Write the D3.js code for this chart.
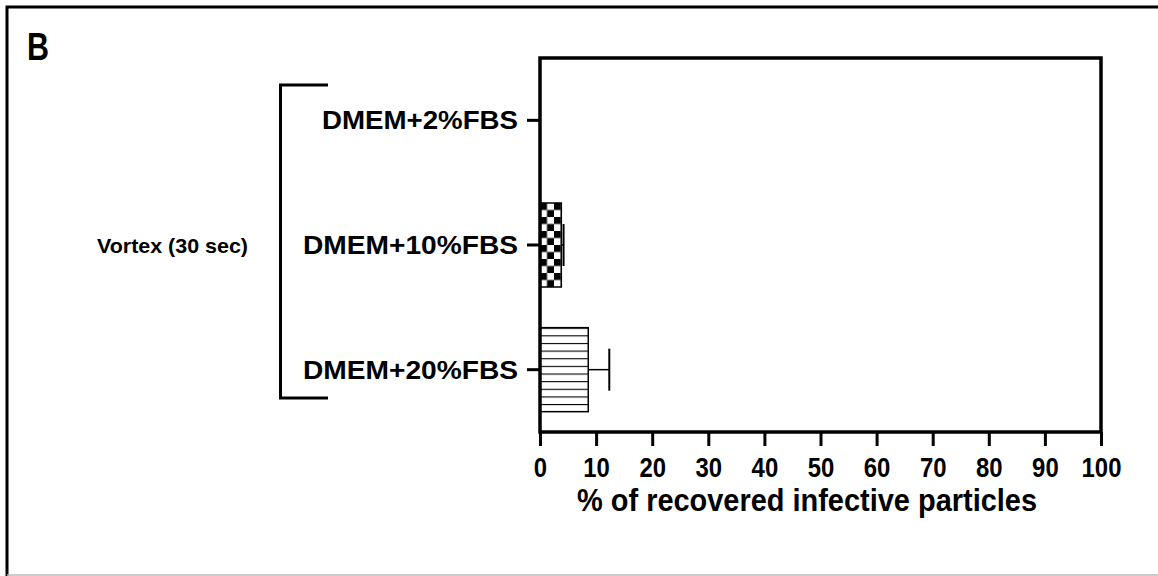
<!DOCTYPE html>
<html>
<head>
<meta charset="utf-8">
<script src="https://cdn.jsdelivr.net/npm/d3@7"></script>
<style>
  html, body { margin: 0; padding: 0; background: #fff; }
  svg { display: block; }
  text { font-family: "Liberation Sans", Arial, sans-serif; font-weight: bold; fill: #000; }
</style>
</head>
<body>
<svg id="chart" width="1158" height="576"></svg>
<script>
// ---- data ----
const categories = ["DMEM+2%FBS", "DMEM+10%FBS", "DMEM+20%FBS"];
const values = [0, 3.8, 8.6];
const errors = [0, 0.4, 3.75];
const fills = ["none", "checker", "hlines"];
const xTicks = [0, 10, 20, 30, 40, 50, 60, 70, 80, 90, 100];
const xTitle = "% of recovered infective particles";
const groupLabel = "Vortex (30 sec)";
const panelLabel = "B";

(function () {
const svg = d3.select("#chart");

// outer panel frame
svg.append("path")
  .attr("d", "M7,576 L7,7 L1158,7")
  .attr("fill", "none").attr("stroke", "#000").attr("stroke-width", 3);
svg.append("line").attr("x1", 7).attr("x2", 1158).attr("y1", 575).attr("y2", 575)
  .attr("stroke", "#bbb").attr("stroke-width", 1.5);

svg.append("text").attr("x", 27).attr("y", 60)
  .attr("font-size", 38).attr("textLength", 22).attr("lengthAdjust", "spacingAndGlyphs")
  .text(panelLabel);

// scales
const pL = 540, pR = 1101, pT = 58, pB = 432;
const x = d3.scaleLinear().domain([0, 100]).range([pL, pR]);
const y = d3.scaleBand().domain(categories).range([pT, pB]).paddingInner(0.326).paddingOuter(0.163);

// patterns
const defs = svg.append("defs");
const bw = y.bandwidth();
const cell = bw / 12;
const chk = defs.append("pattern").attr("id", "checker").attr("patternUnits", "userSpaceOnUse")
  .attr("width", cell * 2).attr("height", cell * 2)
  .attr("x", pL).attr("y", y(categories[1]));
chk.append("rect").attr("width", cell * 2).attr("height", cell * 2).attr("fill", "#fff");
chk.append("rect").attr("width", cell).attr("height", cell).attr("fill", "#000");
chk.append("rect").attr("x", cell).attr("y", cell).attr("width", cell).attr("height", cell).attr("fill", "#000");

const lineStep = bw / 11;
const hl = defs.append("pattern").attr("id", "hlines").attr("patternUnits", "userSpaceOnUse")
  .attr("width", 20).attr("height", lineStep)
  .attr("x", pL).attr("y", y(categories[2]));
hl.append("rect").attr("width", 20).attr("height", lineStep).attr("fill", "#fff");
hl.append("line").attr("x1", 0).attr("x2", 20).attr("y1", 0).attr("y2", 0)
  .attr("stroke", "#000").attr("stroke-width", 2.2);

// bars
const data = categories.map((c, i) => ({ c, v: values[i], e: errors[i], f: fills[i] }));
const g = svg.append("g");
g.selectAll("rect.bar").data(data.filter(d => d.v > 0)).join("rect")
  .attr("class", "bar")
  .attr("x", x(0)).attr("y", d => y(d.c))
  .attr("width", d => x(d.v) - x(0)).attr("height", bw)
  .attr("fill", d => `url(#${d.f})`)
  .attr("stroke", "#000").attr("stroke-width", 1.5);

// error bars
const eb = g.selectAll("g.err").data(data.filter(d => d.e > 0)).join("g").attr("class", "err");
eb.append("line")
  .attr("x1", d => x(d.v)).attr("x2", d => x(d.v + d.e))
  .attr("y1", d => y(d.c) + bw / 2).attr("y2", d => y(d.c) + bw / 2)
  .attr("stroke", "#000").attr("stroke-width", 1.5);
eb.append("line")
  .attr("x1", d => x(d.v + d.e)).attr("x2", d => x(d.v + d.e))
  .attr("y1", d => y(d.c) + bw / 2 - 21).attr("y2", d => y(d.c) + bw / 2 + 21)
  .attr("stroke", "#000").attr("stroke-width", 2);

// plot frame
svg.append("rect").attr("x", pL).attr("y", pT).attr("width", pR - pL).attr("height", pB - pT)
  .attr("fill", "none").attr("stroke", "#000").attr("stroke-width", 3.5);

// x axis
const xAxis = svg.append("g").attr("transform", `translate(0,${pB})`)
  .call(d3.axisBottom(x).tickValues(xTicks).tickSize(14).tickPadding(10).tickFormat(d3.format("d")));
xAxis.select(".domain").remove();
xAxis.selectAll(".tick line").attr("stroke", "#000").attr("stroke-width", 3);
xAxis.selectAll(".tick text").attr("font-size", 28).attr("font-family", "Liberation Sans, Arial, sans-serif")
  .attr("font-weight", "bold").attr("fill", "#000").attr("dy", null).attr("y", 45)
  .attr("textLength", d => String(d).length * 13.3).attr("lengthAdjust", "spacingAndGlyphs");

// y axis
const yAxis = svg.append("g").attr("transform", `translate(${pL},0)`)
  .call(d3.axisLeft(y).tickSize(13).tickPadding(9));
yAxis.select(".domain").remove();
yAxis.selectAll(".tick line").attr("stroke", "#000").attr("stroke-width", 3);
yAxis.selectAll(".tick text").attr("font-size", 25).attr("font-family", "Liberation Sans, Arial, sans-serif")
  .attr("font-weight", "bold").attr("fill", "#000").attr("dy", "0.36em")
  .attr("textLength", d => d.length === 10 ? 196 : 215).attr("lengthAdjust", "spacingAndGlyphs");

// x title
svg.append("text").attr("x", 807).attr("y", 511).attr("text-anchor", "middle")
  .attr("font-size", 31).attr("textLength", 460).attr("lengthAdjust", "spacingAndGlyphs")
  .text(xTitle);

// bracket
svg.append("path")
  .attr("d", `M328,85 L280.5,85 L280.5,398 L328,398`)
  .attr("fill", "none").attr("stroke", "#000").attr("stroke-width", 3);

svg.append("text").attr("x", 97).attr("y", 253)
  .attr("font-size", 21).attr("textLength", 151).attr("lengthAdjust", "spacingAndGlyphs")
  .text(groupLabel);
})();
</script>
</body>
</html>
